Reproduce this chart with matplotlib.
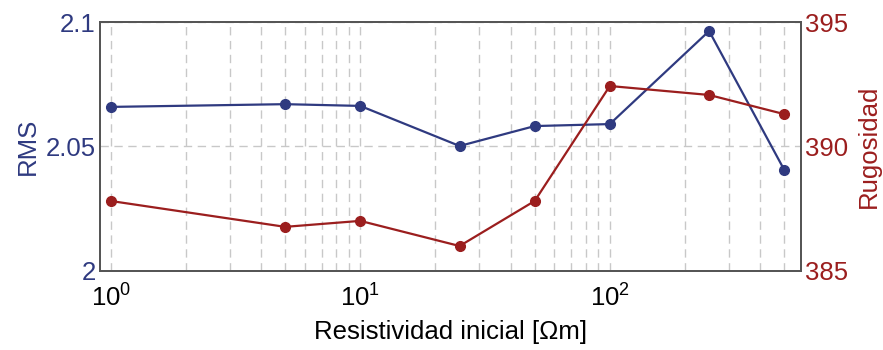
import matplotlib.pyplot as plt
import numpy as np

plt.rcParams['font.family'] = ['Liberation Sans', 'DejaVu Sans']

# Data
resistividad = [1, 5, 10, 25, 50, 100, 250, 500]
rms = [2.0659, 2.0670, 2.0663, 2.0502, 2.0582, 2.0590, 2.0964, 2.0406]
rugosidad = [387.81, 386.77, 387.01, 386.00, 387.81, 392.43, 392.07, 391.30]

blue = '#2f3a80'
red = '#9b1e1e'
fs = 18.5

fig = plt.figure(figsize=(8.83, 3.5), dpi=100)
ax = fig.add_axes([0.113, 0.226, 0.794, 0.711])
ax2 = ax.twinx()

ax.plot(resistividad, rms, color=blue, marker='o', markersize=7, linewidth=1.6, zorder=3)
ax2.plot(resistividad, rugosidad, color=red, marker='o', markersize=7, linewidth=1.6, zorder=3)

ax.set_xscale('log')
ax.set_xlim(0.904, 583)
ax.set_ylim(2, 2.1)
ax2.set_ylim(385, 395)
ax.set_yticks([2, 2.05, 2.1])
ax.set_yticklabels(['2', '2.05', '2.1'])
ax2.set_yticks([385, 390, 395])

ax.grid(True, which='both', axis='x', linestyle=(0, (6, 4)), color='#c8c8c8', linewidth=1)
ax.grid(True, which='major', axis='y', linestyle=(0, (6, 4)), color='#c8c8c8', linewidth=1)
ax.set_axisbelow(True)

ax.tick_params(axis='both', which='both', length=0, labelsize=fs)
ax.tick_params(axis='y', colors=blue, pad=3)
ax.tick_params(axis='x', pad=10)
ax2.tick_params(axis='y', length=0, labelsize=fs, colors=red, pad=3)

ax.set_xlabel('Resistividad inicial [\u03a9m]', fontsize=fs, labelpad=6)
ax.set_ylabel('RMS', fontsize=fs, color=blue, labelpad=4)
ax2.set_ylabel('Rugosidad', fontsize=fs, color=red, labelpad=6)

for a in (ax, ax2):
    for s in a.spines.values():
        s.set_color('#555555')
        s.set_linewidth(1.3)

fig.savefig('out.png', dpi=100)
